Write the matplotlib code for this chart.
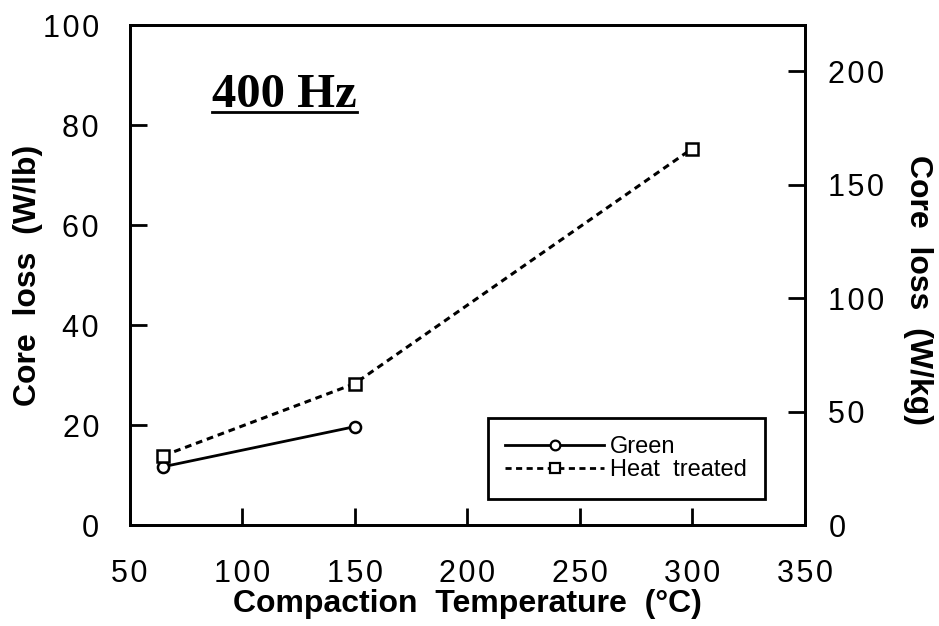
import matplotlib
matplotlib.use("Agg")
import matplotlib.pyplot as plt
from matplotlib.lines import Line2D
from matplotlib.ticker import FuncFormatter

# data
temp_green = [65, 150]
loss_green = [11.7, 19.7]
temp_heat = [65, 150, 300]
loss_heat = [13.9, 28.3, 75.3]
lb_to_kg = 2.2046

x_ticks = [50, 100, 150, 200, 250, 300, 350]
yl_ticks = [0, 20, 40, 60, 80, 100]
yr_ticks = [0, 50, 100, 150, 200]

plt.rcParams['font.family'] = ['Liberation Sans', 'DejaVu Sans']


def spaced(v, pos):
    # the scanned figure has loosely spaced digits
    return '\u200a'.join(str(int(round(v))))


fig = plt.figure(figsize=(9.39, 6.26), dpi=100)
ax = fig.add_axes([0.138, 0.161, 0.719, 0.799])

ax.plot(temp_green, loss_green, color='black', linestyle='-', linewidth=2,
        marker='o', markersize=8, markerfacecolor='white', markeredgewidth=1.8)
ax.plot(temp_heat, loss_heat, color='black', linestyle=(0, (2.2, 1.6)), linewidth=2.2,
        marker='s', markersize=8, markerfacecolor='white', markeredgewidth=1.8)

ax.set_xlim(50, 350)
ax.set_ylim(0, 100)
ax.set_xticks(x_ticks)
ax.set_yticks(yl_ticks)
ax.xaxis.set_major_formatter(FuncFormatter(spaced))
ax.yaxis.set_major_formatter(FuncFormatter(spaced))

for s in ax.spines.values():
    s.set_linewidth(2)

ax.tick_params(axis='both', direction='in', length=12, width=2, labelsize=22)
ax.tick_params(axis='y', pad=22)
ax.tick_params(axis='x', pad=24)

ax.set_xlabel('Compaction  Temperature  (°C)', fontsize=23, fontweight='bold', labelpad=0)
ax.set_ylabel('Core  loss  (W/lb)', fontsize=23, fontweight='bold', va='center')
ax.yaxis.set_label_coords(-0.151, 0.5)

ax2 = ax.twinx()
ax2.set_ylim(0, 100 * lb_to_kg)
ax2.set_yticks(yr_ticks)
ax2.yaxis.set_major_formatter(FuncFormatter(spaced))
ax2.tick_params(axis='y', direction='in', length=12, width=2, labelsize=22, pad=17)
for s in ax2.spines.values():
    s.set_linewidth(2)
ax2.set_ylabel('Core  loss  (W/kg)', fontsize=23, fontweight='bold', rotation=-90,
               va='center')
ax2.yaxis.set_label_coords(1.168, 0.47)

ax.text(0.122, 0.836, '400 Hz', transform=ax.transAxes, fontsize=35,
        fontweight='bold', family='Liberation Serif', ha='left', va='baseline')
ax.plot([0.122, 0.337], [0.826, 0.826], transform=ax.transAxes, color='black',
        linewidth=2, clip_on=False)

handles = [
    Line2D([], [], color='black', linestyle='-', linewidth=2, marker='o',
           markersize=7, markerfacecolor='white', markeredgewidth=1.6),
    Line2D([], [], color='black', linestyle=(0, (2.2, 1.6)), linewidth=2, marker='s',
           markersize=7, markerfacecolor='white', markeredgewidth=1.6),
]
leg = ax.legend(handles, ['Green', 'Heat  treated'], loc='lower right',
                bbox_to_anchor=(0.941, 0.053), fontsize=17, fancybox=False,
                edgecolor='black', framealpha=1, handlelength=4.2,
                handletextpad=0.25, borderpad=0.75, labelspacing=0.05,
                borderaxespad=0)
leg.get_frame().set_linewidth(2)

fig.savefig('out.png', dpi=100)
